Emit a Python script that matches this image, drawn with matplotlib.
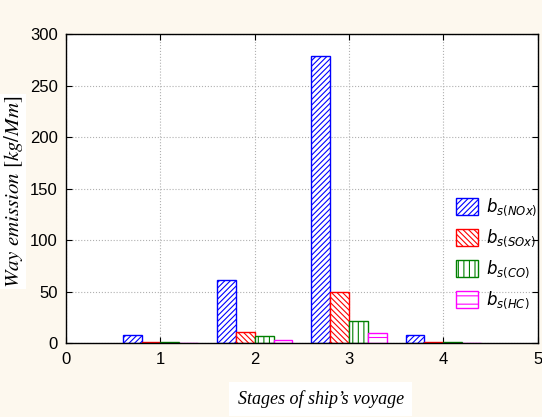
import matplotlib.pyplot as plt
import numpy as np

plt.rcParams['hatch.linewidth'] = 0.8

stages = [1, 2, 3, 4]
b_nox = [8, 61, 279, 8]
b_sox = [1.5, 11, 49.5, 1.5]
b_co = [0.8, 7, 22, 0.8]
b_hc = [0.5, 3, 10, 0.5]

series = [
    (b_nox, r'$b_{s(NOx)}$', 'blue', '//////'),
    (b_sox, r'$b_{s(SOx)}$', 'red', '\\\\\\\\\\\\'),
    (b_co, r'$b_{s(CO)}$', 'green', '|||'),
    (b_hc, r'$b_{s(HC)}$', 'magenta', '--'),
]

fig = plt.figure(figsize=(5.42, 4.17), dpi=100, facecolor='#fdf8ee')
ax = fig.add_axes([0.122, 0.177, 0.870, 0.741])
ax.set_facecolor('white')

x = np.array(stages, dtype=float)
w = 0.2
for i, (vals, lab, col, hatch) in enumerate(series):
    ax.bar(x - 0.4 + i * w, vals, width=w, align='edge', facecolor='white',
           edgecolor=col, hatch=hatch, linewidth=1.0, label=lab)

ax.set_xlim(0, 5)
ax.set_ylim(0, 300)
ax.set_xticks([0, 1, 2, 3, 4, 5])
ax.set_yticks(range(0, 301, 50))
ax.grid(True, color='#b0b0b0', linestyle=':', linewidth=0.8)
ax.set_axisbelow(True)
ax.tick_params(direction='in', top=True, right=True, length=4,
               labelsize=12, pad=6)
for lbl in ax.get_xticklabels() + ax.get_yticklabels():
    lbl.set_family('Liberation Sans')
for s in ax.spines.values():
    s.set_linewidth(1.0)

ax.set_ylabel(r'$Way\ emission\ [kg/Mm]$', math_fontfamily='stix',
              fontsize=15,
              bbox=dict(facecolor='white', edgecolor='none', pad=1))
ax.yaxis.set_label_coords(-0.088, 0.49)
ax.set_xlabel("Stages of ship\u2019s voyage", family='Liberation Serif', style='italic',
              fontsize=13,
              bbox=dict(facecolor='white', edgecolor='none', pad=6))
ax.xaxis.set_label_coords(0.54, -0.152)

ax.legend(loc='lower right', bbox_to_anchor=(1.0, 0.105), frameon=False,
          fontsize=12, handlelength=1.3, handleheight=1.2, labelspacing=0.55,
          handletextpad=0.5, borderpad=0, borderaxespad=0)

fig.savefig('out.png', dpi=100, facecolor=fig.get_facecolor())
